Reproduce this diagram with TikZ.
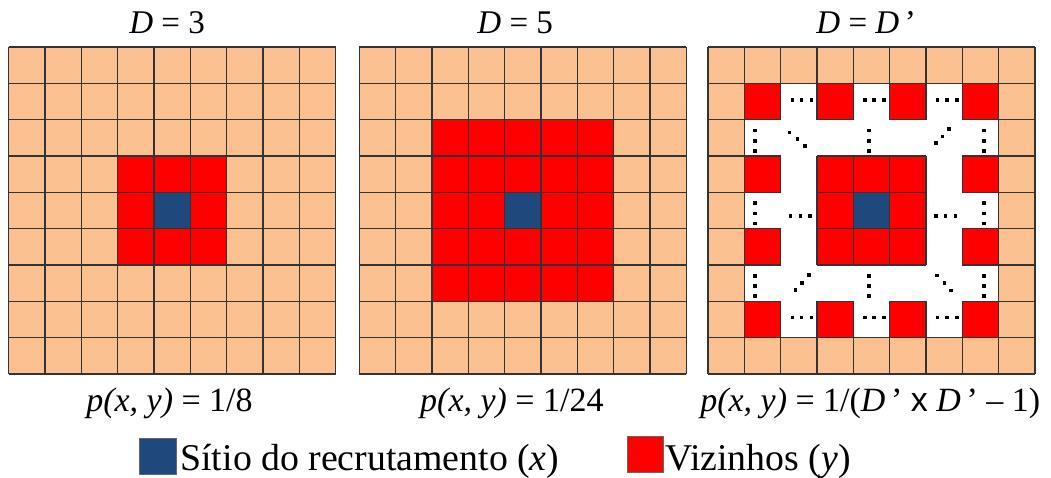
\documentclass[tikz,border=0pt]{standalone}
\usepackage{fontspec}
\setmainfont{Liberation Serif}
\setsansfont{Liberation Sans}
\usetikzlibrary{positioning,calc}
\definecolor{nbrorange}{HTML}{FAC090}
\definecolor{nbrred}{HTML}{FF0000}
\definecolor{nbrblue}{HTML}{1F497D}
\tikzset{
  gridln/.style={line width=1.1pt, draw=black!80},
  redcell/.style={gridln, fill=nbrred},
  siteblk/.style={gridln, fill=nbrblue},
  ttl/.style={anchor=base, inner sep=0pt, font=\fontsize{25.9}{30}\selectfont},
  prob/.style={anchor=base west, inner sep=0pt, font=\fontsize{26.6}{31}\selectfont},
  keybox/.style={draw=black!60, line width=0.6pt, minimum size=10mm, inner sep=0pt},
  keytxt/.style={anchor=base west, inner sep=0pt, font=\fontsize{29.6}{34}\selectfont},
  dotpt/.style={fill=black},
}
\newcommand{\sqdot}[2]{\fill[dotpt] ({#1-0.05},{#2-0.05}) rectangle ({#1+0.05},{#2+0.05});}

\begin{document}
\begin{tikzpicture}
  \useasboundingbox (0,0) rectangle (28.93,13.13);
  % D = 3
  \begin{scope}[shift={(0.24,11.836)}, yscale=-1]
    \fill[nbrorange] (0,0) rectangle (9,9);
    \fill[nbrred] (3,3) rectangle (6,6);
    \fill[nbrblue] (4,4) rectangle (5,5);
    \draw[gridln] (0,0) grid (9,9);
  \end{scope}
  % D = 5
  \begin{scope}[shift={(9.89,11.836)}, yscale=-1]
    \fill[nbrorange] (0,0) rectangle (9,9);
    \fill[nbrred] (2,2) rectangle (7,7);
    \fill[nbrblue] (4,4) rectangle (5,5);
    \draw[gridln] (0,0) grid (9,9);
  \end{scope}
  % D = D'
  \begin{scope}[shift={(19.49,11.836)}, yscale=-1]
    \fill[nbrorange] (0,0) rectangle (9,9);
    \draw[gridln] (0,0) grid (9,9);
    \fill[white] (1,1) rectangle (8,8);
    \draw[gridln] (1,1) rectangle (8,8);
    \foreach \i/\j in {1/1,3/1,5/1,7/1,1/7,3/7,5/7,7/7,1/3,1/5,7/3,7/5}
      \draw[redcell] (\i,\j) rectangle ++(1,1);
    \fill[nbrred] (3,3) rectangle (6,6);
    \draw[gridln] (3,3) grid (6,6);
    \draw[siteblk] (4,4) rectangle (5,5);
    % horizontal dots
    \foreach \i in {2,4,6}
      \foreach \j in {1,7}
        \foreach \f in {0.32,0.57,0.85} {\sqdot{\i+\f}{\j+0.45}}
    \foreach \i in {2,6}
      \foreach \f in {0.27,0.54,0.81} {\sqdot{\i+\f}{4.65}}
    % vertical dots
    \foreach \j in {2,4,6}
      \foreach \f in {0.3,0.58,0.86} {
        \sqdot{1.3}{\j+\f}
        \sqdot{7.6}{\j+\f}
      }
    \foreach \j in {2,6}
      \foreach \f in {0.3,0.58,0.86} {\sqdot{4.43}{\j+\f}}
    % diagonal dots
    \foreach \x/\y in {2.24/2.35,2.46/2.54,2.67/2.72, 6.63/2.26,6.45/2.46,6.27/2.65,
                       2.77/6.27,2.58/6.5,2.41/6.68, 6.31/6.29,6.51/6.5,6.68/6.7}
      {\sqdot{\x}{\y}}
  \end{scope}

  \node[ttl] (ttlA) at (4.60,12.22) {\textit{D} = 3};
  \node[ttl] (ttlB) at (14.18,12.22) {\textit{D} = 5};
  \node[ttl] (ttlC) at (23.84,12.22) {\textit{D} = \textit{D}\,’};

  \node[prob] (pA) at (2.37,1.80) {\textit{p(x, y)} = 1/8};
  \node[prob] (pB) at (11.56,1.80) {\textit{p(x, y)} = 1/24};
  \node[prob] (pC) at (19.27,1.80) {\textit{p(x, y)} = 1/(\textit{D}\,’ {\sffamily x} \textit{D}\,’ – 1)};

  \coordinate (legbase) at (0,0.17);
  \node[keybox, fill=nbrblue] (keyS) at (4.35,0.56) {};
  \node[keybox, fill=nbrred] (keyV) at (17.77,0.63) {};
  \node[keytxt] (txtS) at ($(keyS.east |- legbase)+(0.10,0)$) {Sítio do recrutamento (\textit{x})};
  \node[keytxt] (txtV) at ($(keyV.east |- legbase)+(0.02,0)$) {Vizinhos (\textit{y})};
\end{tikzpicture}
\end{document}
